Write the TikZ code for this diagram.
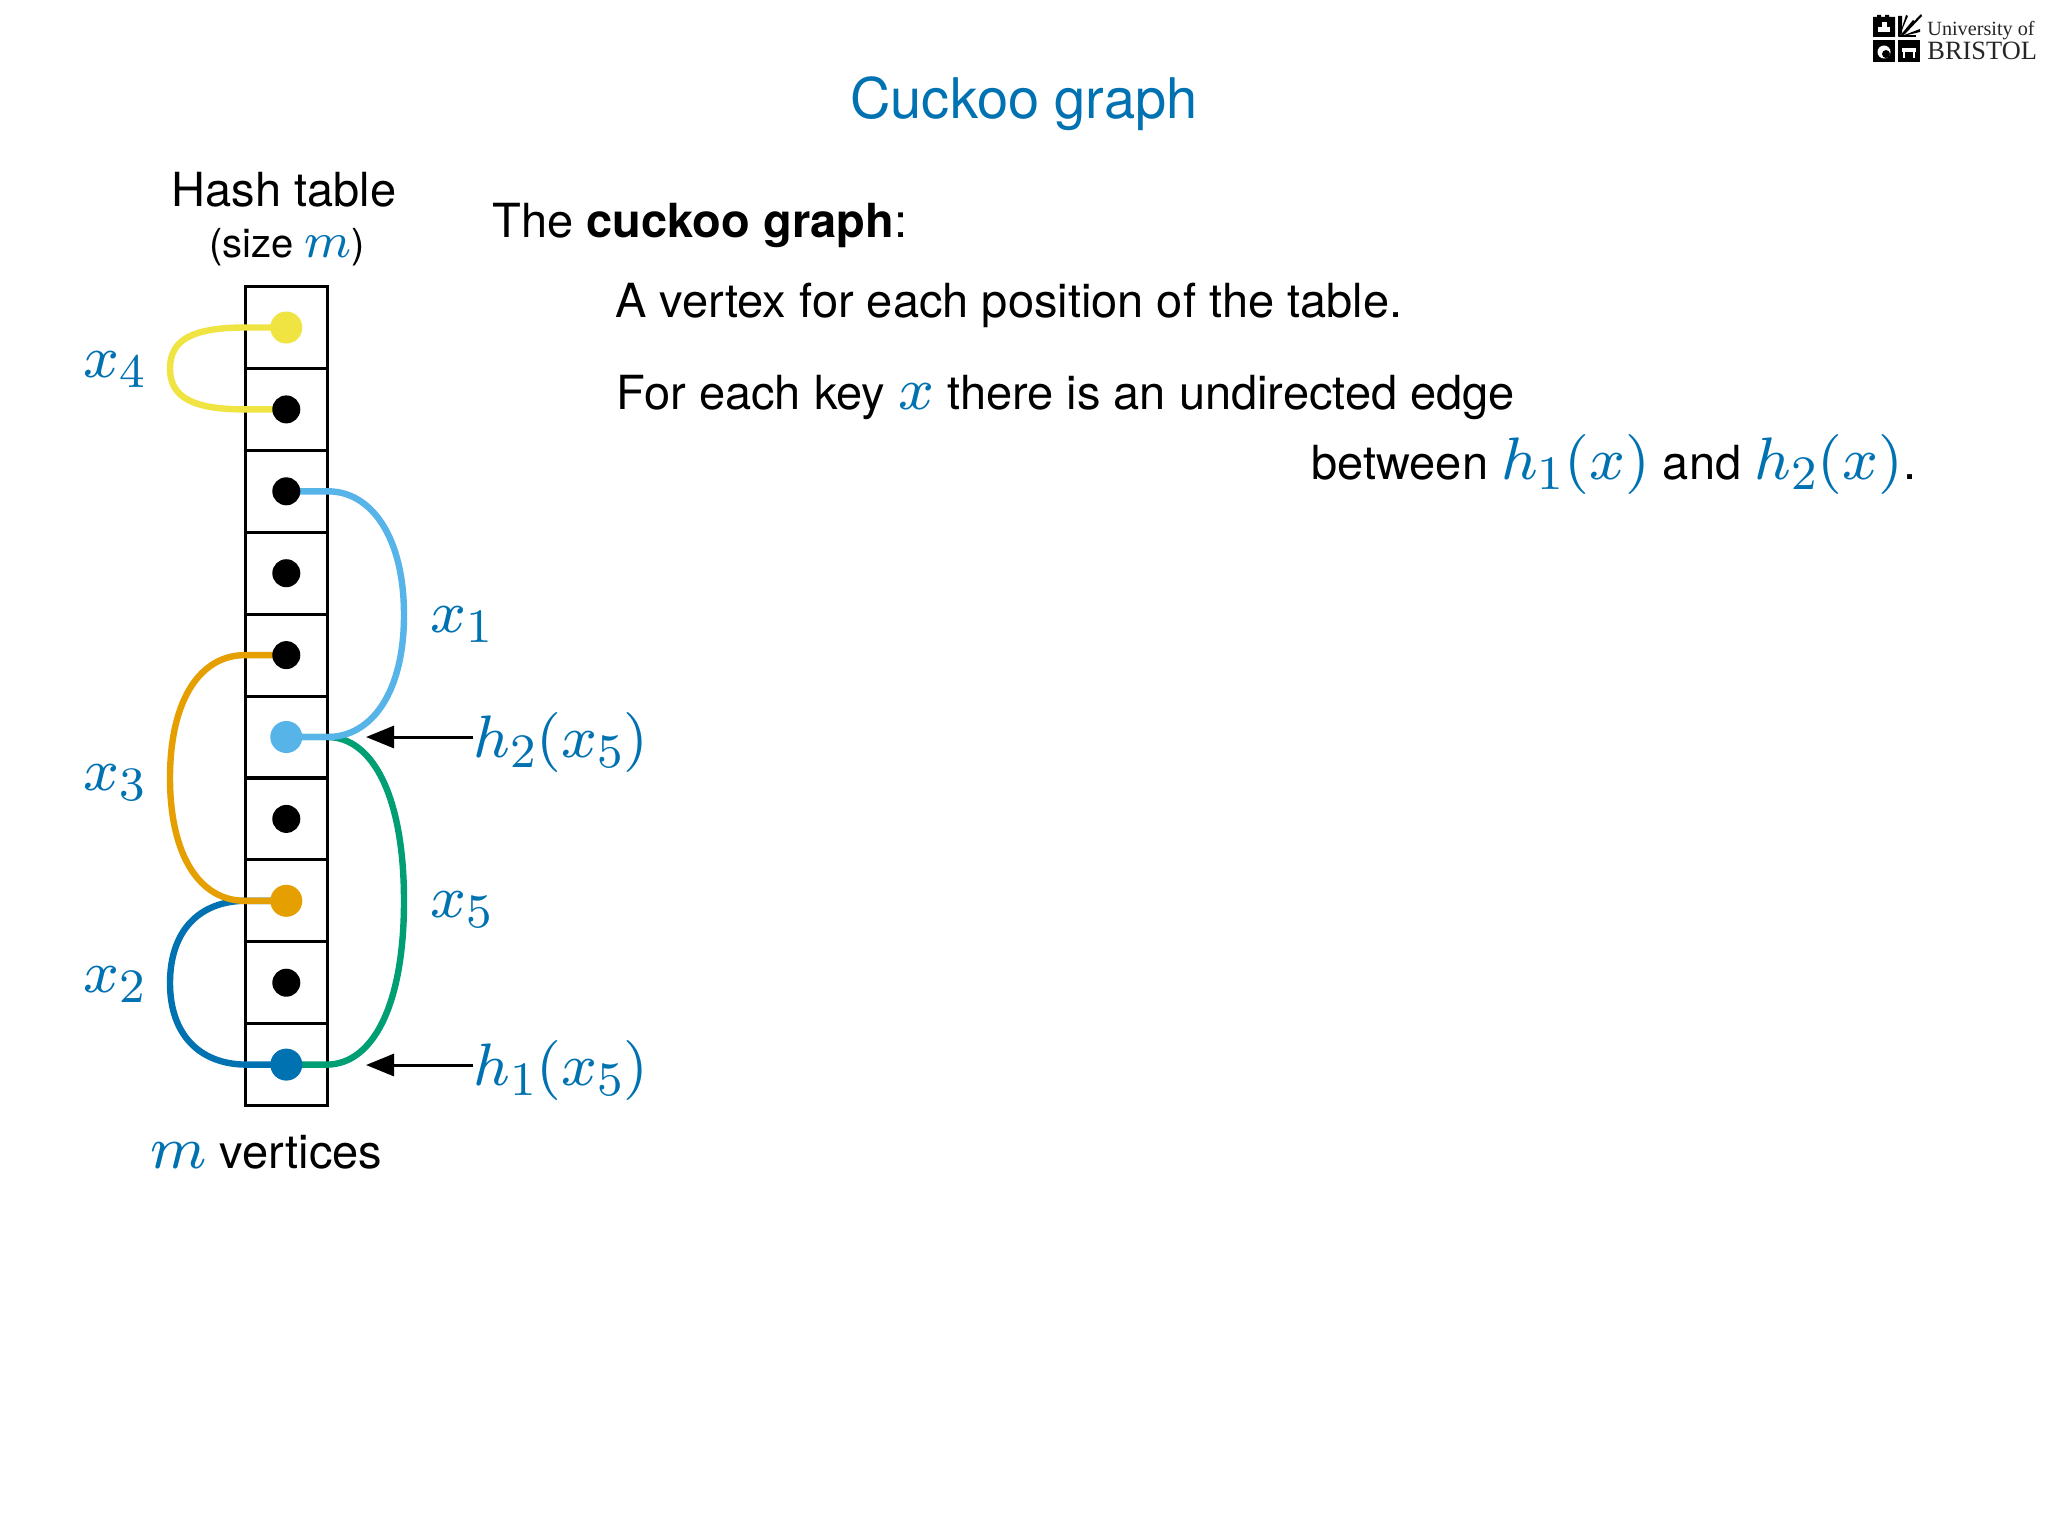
\documentclass[tikz,border=0pt]{standalone}
\usepackage{fix-cm}
\usepackage{fontspec}
\setmainfont{TeX Gyre Heros}
\newfontfamily\logofont{Liberation Serif}
\usetikzlibrary{arrows.meta}
\DeclareFontFamily{OML}{cmm}{\skewchar\font'177}
\DeclareFontShape{OML}{cmm}{m}{it}{<->cmmi8}{}
\DeclareFontFamily{OT1}{cmr}{\hyphenchar\font45}
\DeclareFontShape{OT1}{cmr}{m}{n}{<->cmr8}{}
\definecolor{cblue}{HTML}{0072B2}
\definecolor{csky}{HTML}{56B4E9}
\definecolor{corange}{HTML}{E69F00}
\definecolor{cgreen}{HTML}{009E73}
\definecolor{cyellow}{HTML}{F0E442}
\DeclareMathSizes{30}{30}{24}{18}
\DeclareMathSizes{25}{25}{20}{14}
\newcommand{\bm}[1]{{\fontsize{30}{36}\selectfont\textcolor{cblue}{$#1$}}}
\newcommand{\sm}[1]{{\fontsize{25}{30}\selectfont\textcolor{cblue}{$#1$}}}
\tikzset{
  x=0.5pt,y=-0.5pt,
  cell/.style={draw=black,line width=1.5pt,minimum width=41pt,minimum height=41pt,inner sep=0pt,outer sep=0pt},
  dot/.style={circle,fill=black,minimum size=14pt,inner sep=0pt},
  cdot/.style={circle,fill=#1,minimum size=16pt,inner sep=0pt},
  edge/.style={draw=#1,line width=3.2pt},
  txt/.style={anchor=base west,inner sep=0pt,font=\fontsize{23.5}{28}\selectfont},
  lab/.style={anchor=base west,inner sep=0pt,text=cblue,font=\fontsize{30}{36}\selectfont},
  pointer/.style={draw=black,line width=1.5pt,-{Triangle[length=14pt,width=11pt]}},
  crest/.style={fill=black,draw=none},
}
\begin{document}
\begin{tikzpicture}
\fill[white] (0,0) rectangle (2048,1536);
\useasboundingbox (0,0) rectangle (2048,1536);
% logo
\fill[crest] (1873,17) -- (1877,17) -- (1877,15) -- (1881,15) -- (1881,17) -- (1885,17) -- (1885,15) -- (1889,15) -- (1889,17) -- (1895,17) -- (1895,37) -- (1873,37) -- cycle;
\fill[crest] (1873,40) rectangle (1895,62);
\fill[crest] (1898,40) rectangle (1920,62);
\fill[crest] (1898,37) -- (1898,16) -- (1902,16) -- (1902,33) -- cycle;
\fill[crest] (1899,37) -- (1906,15) -- (1908,16) -- cycle;
\fill[crest] (1899,37) -- (1913,20) -- (1915,22) -- cycle;
\fill[crest] (1899,37) -- (1921,14) -- (1922,16) -- (1905,34) -- cycle;
\fill[crest] (1899,37) -- (1920,29) -- (1920,32) -- cycle;
\fill[crest] (1899,37) rectangle (1916,35);
\fill[white] (1878,27) rectangle (1890,32);
\fill[white] (1882,22) rectangle (1887,27);
\fill[white] (1884,52) circle[radius=6.5];
\fill[black] (1886,54) circle[radius=4];
\fill[white] (1902,48) rectangle (1916,52);
\fill[white] (1903,52) rectangle (1905,58);
\fill[white] (1913,52) rectangle (1915,58);
\node[anchor=base west,inner sep=0pt,font=\logofont\fontsize{10.1}{12}\selectfont,text=black!85] (logoa) at (1927,36) {University of};
\node[anchor=base west,inner sep=0pt,font=\logofont\fontsize{13.2}{16}\selectfont,text=black!85] (logob) at (1927,60) {BRISTOL};
% title
\node[anchor=base,inner sep=0pt,text=cblue,font=\fontsize{28}{34}\selectfont] (title) at (1024,118.5) {Cuckoo graph};
% table
\foreach \i in {0,...,9} {
  \node[cell] (t\i) at (286.3,{327.5+81.9*\i}) {};
}
\foreach \i in {0,...,9} {
  \coordinate (c\i) at (t\i.center);
}
\coordinate (m1) at (404,615);
\coordinate (m3) at (170,778);
\coordinate (m5) at (404,901);
\coordinate (m2) at (170,983);
% edges
\draw[edge=cyellow] (c0) -- (t0.west) .. controls (192,327.5) and (170,340) .. (170,368.5) .. controls (170,397) and (192,409.4) .. (t1.west) -- (c1);
\draw[edge=cblue] (c7) -- (t7.west) .. controls (200,901) and (170,930) .. (m2) .. controls (170,1035) and (200,1064) .. (t9.west) -- (c9);
\draw[edge=corange] (c4) -- (t4.west) .. controls (200,655) and (170,700) .. (m3) .. controls (170,856) and (200,901) .. (t7.west) -- (c7);
\draw[edge=cgreen] (c5) -- (t5.east) .. controls (372,737) and (404,795) .. (m5) .. controls (404,1007) and (372,1064) .. (t9.east) -- (c9);
\draw[edge=csky] (c2) -- (t2.east) .. controls (372,491) and (404,538) .. (m1) .. controls (404,692) and (372,737) .. (t5.east) -- (c5);
% dots
\node[cdot=cyellow] (d0) at (c0) {};
\node[dot] (d1) at (c1) {};
\node[dot] (d2) at (c2) {};
\node[dot] (d3) at (c3) {};
\node[dot] (d4) at (c4) {};
\node[cdot=csky] (d5) at (c5) {};
\node[dot] (d6) at (c6) {};
\node[cdot=corange] (d7) at (c7) {};
\node[dot] (d8) at (c8) {};
\node[cdot=cblue] (d9) at (c9) {};
% labels
\node[anchor=base,inner sep=0pt,font=\fontsize{23.5}{28}\selectfont] (ht) at (284,206) {Hash table};
\node[anchor=base,inner sep=0pt,font=\fontsize{20}{24}\selectfont] (hs) at (287,257) {(size \sm{m})};
\node[txt] (mv) at (150,1168) {\bm{m} vertices};
\node[lab] (x4) at (83,377) {$x_{4}$};
\node[lab] (x1) at (430,632) {$x_{1}$};
\node[lab] (x3) at (83,790) {$x_{3}$};
\node[lab] (x2) at (83,992) {$x_{2}$};
\node[lab] (x5) at (430,917) {$x_{5}$};
\node[lab] (h2) at (473,757) {$h_2(x_{5})$};
\node[lab] (h1) at (473,1085) {$h_1(x_{5})$};
\coordinate (a2) at (366,737);
\coordinate (a1) at (366,1065);
\draw[pointer] (h2.west |- a2) -- (a2);
\draw[pointer] (h1.west |- a1) -- (a1);
% text
\node[txt] (t1) at (492,237) {The \textbf{cuckoo graph}:};
\node[txt] (t2) at (615,317.5) {A vertex for each position of the table.};
\node[txt] (t3) at (616,409) {For each key \bm{x} there is an undirected edge};
\node[txt] (t4) at (1311,479) {between \bm{h_1(x)} and \bm{h_2(x)}.};
\end{tikzpicture}
\end{document}
